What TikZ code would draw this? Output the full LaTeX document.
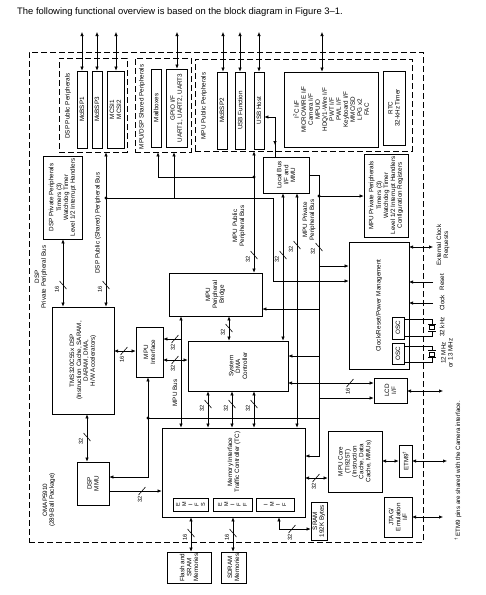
\documentclass[tikz,border=0pt]{standalone}
\usepackage{fontspec}
\setmainfont{Liberation Sans}
\usetikzlibrary{arrows.meta,fit}
\tikzset{
  >={Latex[length=4pt,width=3.4pt]},
  ln/.style={line width=0.6pt},
  ar/.style={ln,->},
  dar/.style={ln,<->},
  blk/.style={draw,line width=0.7pt,inner sep=0pt},
  dbox/.style={draw,line width=0.7pt,inner sep=0pt,dash pattern=on 6pt off 3pt},
  txt/.style={rotate=90,align=center,inner sep=0pt,font=\fontsize{6.3}{6.9}\selectfont},
  num/.style={rotate=90,inner sep=0pt,font=\fontsize{5.7}{6}\selectfont},
  emif/.style={rotate=90,align=center,inner sep=0pt,font=\fontsize{5.5}{6.2}\selectfont},
}
\newcommand\blkbox[6]{\node[blk,fit={(#2,#3) (#4,#5)}] (#1) {};\node[txt] at (#1.center) {#6};}
\newcommand\busv[3]{\draw[ln] (#1-3.5,#2-4) -- (#1+3.5,#2+4);\node[num] at (#1-6,#2+4) {#3};}
\newcommand\bush[3]{\draw[ln] (#1-3.5,#2+4) -- (#1+3.5,#2-4);\node[num] at (#1-2,#2+8) {#3};}
\newcommand\jdot[2]{\fill (#1,#2) circle (1.6pt);}
\newcommand\xtal[3]{% top point, bottom point, centre y
  \draw[ln] (#1) -- (432,0 |- #1) -- (432,#3-3.5);
  \draw[ln] (#2) -- (432,0 |- #2) -- (432,#3+3.5);
  \draw[ln] (428,#3-3.5) -- (436,#3-3.5);
  \draw[ln] (428,#3+3.5) -- (436,#3+3.5);
  \draw[ln] (429.5,#3-2) rectangle (434.5,#3+2);}
\begin{document}
\begin{tikzpicture}[x=1pt,y=-1pt]
\useasboundingbox (0,0) rectangle (486,595);
\fill[white] (0,0) rectangle (486,595);

\node[anchor=west,inner sep=0pt,font=\fontsize{9.4}{10}\selectfont] (title) at (17,12)
  {The following functional overview is based on the block diagram in Figure 3\textendash1.};

% dashed regions
\node[dbox,fit={(29,52) (423,542)}] (omap) {};
\node[dbox,fit={(59,58) (127,152)}] (dsppub) {};
\node[dbox,fit={(135,58) (191,152)}] (shared) {};
\node[dbox,fit={(195,59) (412,151)}] (mpupub) {};
\node[txt] at (68,106) {DSP Public Peripherals};
\node[txt] at (142,107) {MPU/DSP Shared Peripherals};
\node[txt] at (204,106) {MPU Public Peripherals};

% boxes
\blkbox{mcbsp1}{77}{71}{87}{148}{McBSP1}
\blkbox{mcbsp3}{92}{71}{102}{148}{McBSP3}
\blkbox{mcsi}{107}{71}{124}{148}{MCSI1\\MCSI2}
\blkbox{mbox}{151}{69}{161}{147}{Mailboxes}
\blkbox{gpio}{166}{69}{187}{147}{GPIO I/F\\UART1, UART2, UART3}
\blkbox{mcbsp2}{217}{72}{227}{149}{McBSP2}
\blkbox{usbf}{235}{72}{245}{149}{USB Function}
\blkbox{usbh}{254}{72}{264}{149}{USB Host}
\node[blk,fit={(284,72) (378,147)}] (mpuper) {};
\node[txt,font=\fontsize{6.3}{7}\selectfont] at (mpuper.center)
  {I\textsuperscript{2}C I/F\\MICROWIRE I/F\\Camera I/F\\MPUIO\\HDQ/1-Wire I/F\\PWT I/F\\PWL I/F\\Keyboard I/F\\MMC/SD\\LPG x2\\FAC};
\blkbox{rtc}{383}{71}{405}{145}{RTC\\32-kHz Timer}
\blkbox{dsppriv}{43}{156}{82}{239}{DSP Private Peripherals\\[1pt]Timers (3)\\Watchdog Timer\\Level 1/2 Interrupt Handlers}
\blkbox{lbus}{263}{157}{309}{193}{Local Bus\\I/F and\\MMU}
\blkbox{mpupriv}{364}{154}{408}{237}{MPU Private Peripherals\\[1pt]Timers (3)\\Watchdog Timer\\Level 1/2 Interrupt Handlers\\Configuration Registers}
\blkbox{clk}{349}{242}{409}{369}{Clock/Reset/Power Management}
\blkbox{osca}{392}{317}{404}{339}{OSC}
\blkbox{oscb}{392}{343}{404}{364}{OSC}
\blkbox{bridge}{169}{273}{262}{316}{MPU\\Peripheral\\Bridge}
\blkbox{tms}{52}{307}{114}{414}{TMS320C55x DSP\\(Instruction Cache, SARAM,\\DARAM, DMA,\\H/W Accelerators)}
\blkbox{mpuif}{136}{327}{163}{377}{MPU\\Interface}
\blkbox{dma}{188}{341}{288}{391}{System\\DMA\\Controller}
\blkbox{lcd}{374}{378}{407}{403}{LCD\\I/F}
\node[blk,fit={(162,428) (305,517)}] (tc) {};
\node[txt] at (234,462) {Memory Interface\\Traffic Controller (TC)};
\node[blk,fit={(173,498) (208,511)}] (emifs) {};
\node[emif] at (emifs.center) {E\\M\\I\\F\\S};
\node[blk,fit={(213,498) (252,511)}] (emiff) {};
\node[emif] at (emiff.center) {E\\M\\I\\F\\F};
\node[blk,fit={(256,498) (294,511)}] (imif) {};
\node[emif] at (imif.center) {I\\M\\I\\F};
\blkbox{dspmmu}{77}{462}{109}{505}{DSP\\MMU}
\blkbox{mpucore}{328}{431}{382}{492}{MPU Core\\(TI925T)\\(Instruction\\Cache, Data\\Cache, MMUs)}
\blkbox{etm}{399}{445}{412}{477}{ETM9\textsuperscript{\dag}}
\blkbox{jtag}{384}{497}{412}{537}{JTAG/\\Emulation\\I/F}
\blkbox{sram}{311}{502}{327}{540}{SRAM\\192K Bytes}
\blkbox{flash}{167}{552}{211}{583}{Flash and\\SRAM\\Memories}
\blkbox{sdram}{221}{552}{246}{583}{SDRAM\\Memories}

% free labels
\node[txt] at (41,277) {DSP\\Private Peripheral Bus};
\node[txt] at (98,223) {DSP Public (Shared) Peripheral Bus};
\node[txt] at (239,226) {MPU Public\\Peripheral Bus};
\node[txt] at (309,220) {MPU Private\\Peripheral Bus};
\node[txt] at (175,393) {MPU Bus};
\node[txt] at (49,500) {OMAP5910\\(289-Ball Package)};
\node[txt] at (443,245) {External Clock\\Requests};
\node[txt] at (442,282) {Reset};
\node[txt] at (442,303) {Clock};
\node[txt] at (442,327) {32 kHz};
\node[txt] at (447,353) {12 MHz\\or 13 MHz};
\node[rotate=90,anchor=west,inner sep=0pt,font=\fontsize{6.2}{7}\selectfont] at (458,541)
  {\textsuperscript{\dag}\ ETM9 pins are shared with the Camera interface.};

% top external buses
\draw[dar] (82,32) -- (82,0 |- mcbsp1.north);
\draw[dar] (97,32) -- (97,0 |- mcbsp3.north);
\draw[dar] (116,32) -- (116,0 |- mcsi.north);
\draw[dar] (177,32) -- (177,0 |- gpio.north);
\draw[dar] (223,32) -- (223,0 |- mcbsp2.north);
\draw[dar] (240,32) -- (240,0 |- usbf.north);
\draw[dar] (259,32) -- (259,0 |- usbh.north);
\draw[dar] (322,32) -- (322,0 |- mpuper.north);

% DSP buses
\draw[dar] (63,0 |- dsppriv.south) -- (63,0 |- tms.north);
\draw[dar] (106,0 |- dsppub.south) -- (106,0 |- tms.north);
\draw[ar] (106,198) -- (273,198) -- (273,281) -- (273,281 -| clk.west);
\jdot{106}{198}
\draw[<-,ln] (174,0 |- shared.south) -- (174,198);
\draw[<-,ln] (158,0 |- shared.south) -- (158,177) -- (254,177);
\draw[dar] (254,0 |- mpupub.south) -- (254,0 |- bridge.north);
\jdot{254}{177}

% local bus
\draw[dar] (283,0 |- lbus.south) -- (283,0 |- dma.north);
\draw[dar] (297,0 |- lbus.south) -- (297,0 |- tc.north);
\draw[ar] (275,0 |- lbus.north) -- (275,117) -- (275,117 -| usbh.east);
\draw[ar] (275,130) -- (275,145);
\draw[ar] (309,175) -- (319,175) -- (319,456) -- (319,456 -| tc.east);
\draw[ar] (319,196) -- (319,196 -| mpupriv.west);
\jdot{319}{196}
\draw[ar] (319,266) -- (319,266 -| clk.west);
\draw[ar] (319,309) -- (319,309 -| bridge.east);
\draw[ar] (319,356) -- (319,356 -| dma.east);
\draw[dar] (288,383) -- (288,383 -| lcd.west);
\draw[ar] (319,398) -- (319,398 -| lcd.west);

% MPU bus
\draw[dar] (229,0 |- bridge.south) -- (229,0 |- dma.north);
\draw[dar] (181,0 |- bridge.south) -- (181,0 |- tc.north);
\draw[ar] (181,339) -- (181,339 -| mpuif.east);
\draw[dar] (163,360) -- (163,360 -| dma.west);
\draw[dar] (114,351) -- (114,351 -| mpuif.west);
\draw[dar] (148,0 |- mpuif.south) -- (148,477) -- (148,477 -| dspmmu.east);
\draw[ln] (148,418) -- (319,418);
\jdot{148}{418}
\draw[dar] (87,0 |- tms.south) -- (87,0 |- dspmmu.north);
\draw[ar] (109,491) -- (109,491 -| tc.west);

% traffic controller
\draw[dar] (208,0 |- dma.south) -- (208,0 |- tc.north);
\draw[dar] (232,0 |- dma.south) -- (232,0 |- tc.north);
\draw[dar] (254,0 |- dma.south) -- (254,0 |- tc.north);
\draw[dar] (305,478) -- (305,478 -| mpucore.west);
\draw[dar] (191,0 |- tc.south) -- (191,0 |- flash.north);
\draw[dar] (233,0 |- tc.south) -- (233,0 |- sdram.north);
\draw[dar] (279,0 |- tc.south) -- (279,529) -- (279,529 -| sram.west);

% right side
\draw[dar] (382,461) -- (382,461 -| etm.west);
\draw[dar] (412,461) -- (447,461);
\draw[dar] (412,517) -- (443,517);
\draw[dar] (407,391) -- (443,391);
\draw[dar] (409,247) -- (433,247);
\draw[ar] (433,282) -- (409,282);
\draw[ar] (433,303) -- (409,303);
\xtal{404,319}{404,336}{327.5}
\xtal{404,346}{404,362}{354}

% bus widths
\busv{63}{285}{16}
\busv{106}{285}{16}
\busv{254}{255}{32}
\busv{283}{255}{32}
\busv{297}{245}{32}
\busv{319}{247}{32}
\busv{229}{328}{32}
\bush{175}{339}{32}
\bush{175}{360}{32}
\bush{124}{351}{16}
\busv{87}{437}{32}
\bush{142}{491}{32}
\busv{208}{404}{32}
\busv{232}{404}{32}
\busv{254}{404}{32}
\bush{350}{383}{16}
\bush{316}{478}{32}
\busv{191}{533}{16}
\busv{233}{533}{16}
\bush{292}{529}{32}
\end{tikzpicture}
\end{document}
